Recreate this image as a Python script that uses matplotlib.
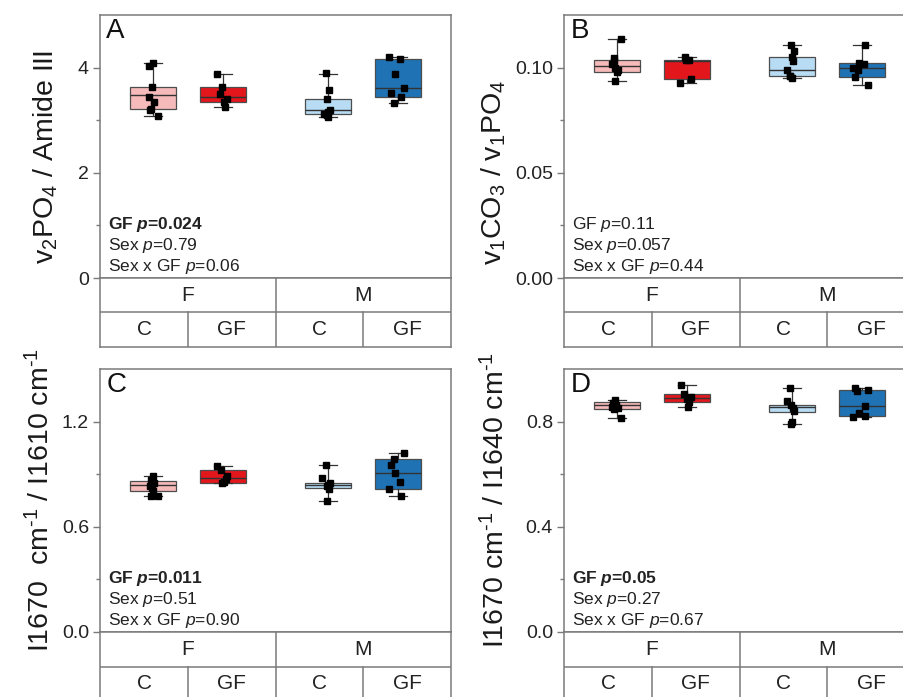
import numpy as np
import matplotlib
matplotlib.use('Agg')
import matplotlib.pyplot as plt

plt.rcParams['font.family'] = ['Liberation Sans', 'DejaVu Sans']
plt.rcParams['mathtext.fontset'] = 'custom'
plt.rcParams['mathtext.rm'] = 'Liberation Sans'
plt.rcParams['mathtext.it'] = 'Liberation Sans:italic'
plt.rcParams['mathtext.bf'] = 'Liberation Sans:bold'
plt.rcParams['mathtext.bfit'] = 'Liberation Sans:italic:bold'
plt.rcParams['mathtext.default'] = 'regular'

# groups, left to right: F-C, F-GF, M-C, M-GF
groups = ['F-C', 'F-GF', 'M-C', 'M-GF']
sexes = ['F', 'M']
diets = ['C', 'GF', 'C', 'GF']
colors = ['#f6baba', '#e3161c', '#b7dcf4', '#1f73b5']

# panel A: v2PO4 / Amide III
a_points = [[4.09, 4.03, 3.63, 3.44, 3.34, 3.22, 3.19, 3.08],
            [3.88, 3.63, 3.49, 3.41, 3.34, 3.26],
            [3.89, 3.58, 3.40, 3.19, 3.15, 3.11, 3.06, 3.09],
            [4.21, 4.17, 3.87, 3.62, 3.51, 3.45, 3.32]]
a_jitter = [[0.005, -0.062, -0.014, -0.062, 0.01, -0.034, -0.048, 0.067],
            [-0.091, -0.014, -0.038, 0.062, 0.01, 0.034],
            [-0.024, 0.014, -0.014, 0.029, 0.0, -0.058, 0.005, -0.014],
            [-0.12, 0.034, -0.034, 0.086, -0.096, 0.048, -0.062]]
# lo, q1, med, q3, hi
a_box = [[3.08, 3.21, 3.47, 3.63, 4.09],
         [3.26, 3.35, 3.45, 3.63, 3.87],
         [3.06, 3.11, 3.19, 3.40, 3.87],
         [3.32, 3.45, 3.62, 4.16, 4.20]]
a_stats = ['GF $\\mathbfit{p}$=0.024', 'Sex $\\mathit{p}$=0.79', 'Sex x GF $\\mathit{p}$=0.06']

# panel B: v1CO3 / v1PO4
b_points = [[0.1138, 0.1046, 0.1033, 0.1019, 0.0998, 0.0987, 0.0981, 0.0935],
            [0.1051, 0.1038, 0.1036, 0.0948, 0.0929],
            [0.1106, 0.1081, 0.1049, 0.1030, 0.0990, 0.0962, 0.0952, 0.0959],
            [0.1106, 0.1022, 0.1016, 0.0998, 0.0987, 0.0954, 0.0918]]
b_jitter = [[0.062, -0.048, -0.038, -0.072, -0.024, 0.01, 0.0, -0.029],
            [-0.034, -0.01, 0.024, 0.053, -0.096],
            [-0.014, 0.024, -0.005, 0.014, -0.072, -0.024, 0.0, -0.034],
            [0.043, -0.038, 0.029, -0.12, -0.062, -0.1, 0.086]]
b_box = [[0.0935, 0.0981, 0.1006, 0.1036, 0.1138],
         [0.0929, 0.0948, 0.1033, 0.1036, 0.1051],
         [0.0952, 0.0960, 0.0989, 0.1049, 0.1106],
         [0.0918, 0.0954, 0.1000, 0.1021, 0.1106]]
b_stats = ['GF $\\mathit{p}$=0.11', 'Sex $\\mathit{p}$=0.057', 'Sex x GF $\\mathit{p}$=0.44']

# panel C: I1670 / I1610
c_points = [[0.890, 0.868, 0.852, 0.832, 0.805, 0.775, 0.775, 0.820],
            [0.949, 0.923, 0.892, 0.871, 0.858, 0.847],
            [0.951, 0.877, 0.852, 0.839, 0.832, 0.816, 0.746],
            [1.020, 0.987, 0.953, 0.907, 0.858, 0.818, 0.778]]
c_jitter = [[-0.005, -0.024, 0.01, -0.038, 0.0, -0.034, 0.067, -0.01],
            [-0.091, -0.029, 0.062, 0.038, 0.01, -0.01],
            [-0.024, -0.082, 0.024, 0.0, -0.014, 0.014, -0.014],
            [0.086, -0.058, -0.1, -0.034, 0.029, -0.12, 0.048]]
c_box = [[0.773, 0.807, 0.837, 0.864, 0.890],
         [0.847, 0.847, 0.879, 0.923, 0.949],
         [0.746, 0.824, 0.837, 0.849, 0.951],
         [0.778, 0.816, 0.907, 0.985, 1.020]]
c_stats = ['GF $\\mathbfit{p}$=0.011', 'Sex $\\mathit{p}$=0.51', 'Sex x GF $\\mathit{p}$=0.90']

# panel D: I1670 / I1640
d_points = [[0.884, 0.870, 0.863, 0.857, 0.851, 0.847, 0.815],
            [0.941, 0.905, 0.892, 0.885, 0.876, 0.854],
            [0.928, 0.880, 0.865, 0.853, 0.841, 0.800, 0.789],
            [0.927, 0.918, 0.922, 0.861, 0.834, 0.823, 0.816]]
d_jitter = [[-0.024, -0.053, -0.014, -0.072, 0.01, -0.043, 0.062],
            [-0.091, -0.038, 0.053, 0.0, 0.034, 0.01],
            [-0.029, -0.072, -0.01, 0.01, 0.034, 0.0, -0.019],
            [-0.1, -0.072, 0.086, 0.038, -0.038, 0.048, -0.12]]
d_box = [[0.815, 0.847, 0.862, 0.876, 0.882],
         [0.854, 0.875, 0.890, 0.905, 0.941],
         [0.789, 0.838, 0.856, 0.865, 0.928],
         [0.816, 0.822, 0.858, 0.920, 0.927]]
d_stats = ['GF $\\mathbfit{p}$=0.05', 'Sex $\\mathit{p}$=0.27', 'Sex x GF $\\mathit{p}$=0.67']

positions = [1, 2, 3.5, 4.5]
XLIM = (0.24, 5.26)
GREY = '#7a7a7a'
W, H = 904, 697


def px_rect(left, top, right, bottom):
    # pixel box -> figure fraction
    return [left / W, 1 - bottom / H, (right - left) / W, (bottom - top) / H]


def draw_panel(fig, left, top, letter, points, jitter, box, stats, ylim,
               major, minor, fmt, ylabel, lab_x, lab_y, bold_first):
    right = left + 351
    ax = fig.add_axes(px_rect(left, top, right, top + 263))
    tab = fig.add_axes(px_rect(left, top + 263, right, top + 332))

    bstats = []
    for g, b in zip(groups, box):
        bstats.append(dict(label=g, whislo=b[0], q1=b[1], med=b[2], q3=b[3], whishi=b[4]))
    bp = ax.bxp(bstats, positions=positions, widths=0.65, capwidths=0.26,
                showfliers=False, patch_artist=True,
                boxprops=dict(edgecolor='#4d4d4d', linewidth=0.9),
                medianprops=dict(color='#333333', linewidth=1.0),
                whiskerprops=dict(color='#333333', linewidth=0.9),
                capprops=dict(color='#333333', linewidth=0.9))
    for patch, c in zip(bp['boxes'], colors):
        patch.set_facecolor(c)
    for pos, pts, jit in zip(positions, points, jitter):
        ax.plot(pos + np.array(jit), pts, 's', color='black', markersize=4, zorder=5)

    ax.set_xlim(XLIM)
    ax.set_ylim(ylim)
    ax.set_xticks([])
    ax.set_yticks(major)
    ax.set_yticks(minor, minor=True)
    ax.set_yticklabels([fmt % v for v in major])
    ax.tick_params(axis='y', which='major', length=5, width=1, color=GREY,
                   labelsize=14, labelcolor='#222222', pad=3)
    ax.tick_params(axis='y', which='minor', length=3, width=1, color=GREY)
    for s in ax.spines.values():
        s.set_color(GREY)
        s.set_linewidth(1.1)
    ax.set_ylabel(ylabel, fontsize=20.5, color='#1a1a1a')
    ax.yaxis.set_label_coords(lab_x, lab_y)
    ax.text(0.018, 0.99, letter, transform=ax.transAxes, fontsize=20,
            va='top', ha='left', color='#111111')
    for i, line in enumerate(stats):
        ax.text(0.022, 0.008 + (2 - i) * 0.079, line, transform=ax.transAxes,
                fontsize=12.5, va='bottom', ha='left', color='#222222',
                fontweight='bold' if (i == 0 and bold_first) else 'normal')

    # category table under the axis
    tab.set_xlim(XLIM)
    tab.set_ylim(0, 2)
    tab.set_xticks([])
    tab.set_yticks([])
    for s in tab.spines.values():
        s.set_color(GREY)
        s.set_linewidth(1.1)
    tab.axhline(1, color=GREY, lw=1.1)
    tab.plot([2.75, 2.75], [0, 2], color=GREY, lw=1.1)
    tab.plot([1.5, 1.5], [0, 1], color=GREY, lw=1.1)
    tab.plot([4.0, 4.0], [0, 1], color=GREY, lw=1.1)
    for x, s in zip([1.5, 4.0], sexes):
        tab.text(x, 1.5, s, ha='center', va='center', fontsize=15, color='#222222')
    for x, d in zip([0.87, 2.125, 3.375, 4.63], diets):
        tab.text(x, 0.5, d, ha='center', va='center', fontsize=15, color='#222222')
    return ax


fig = plt.figure(figsize=(W / 100, H / 100), dpi=100)

draw_panel(fig, 100, 15, 'A', a_points, a_jitter, a_box, a_stats, (0, 5),
           [0, 2, 4], [1, 3], '%d', 'v$_2$PO$_4$ / Amide III', -0.115, 0.46, True)
draw_panel(fig, 564, 15, 'B', b_points, b_jitter, b_box, b_stats, (0, 0.125),
           [0, 0.05, 0.10], [0.025, 0.075], '%.2f', 'v$_1$CO$_3$ / v$_1$PO$_4$',
           -0.16, 0.40, False)
draw_panel(fig, 100, 369, 'C', c_points, c_jitter, c_box, c_stats, (0, 1.5),
           [0, 0.6, 1.2], [0.3, 0.9], '%.1f',
           'I1670  cm$^{\u2010 1}$ / I1610 cm$^{\u2010 1}$', -0.127, 0.5, True)
draw_panel(fig, 564, 369, 'D', d_points, d_jitter, d_box, d_stats, (0, 1.0),
           [0, 0.4, 0.8], [0.2, 0.6], '%.1f',
           'I1670 cm$^{\u2010 1}$ / I1640 cm$^{\u2010 1}$', -0.153, 0.5, True)

fig.savefig('out.png', dpi=100)
